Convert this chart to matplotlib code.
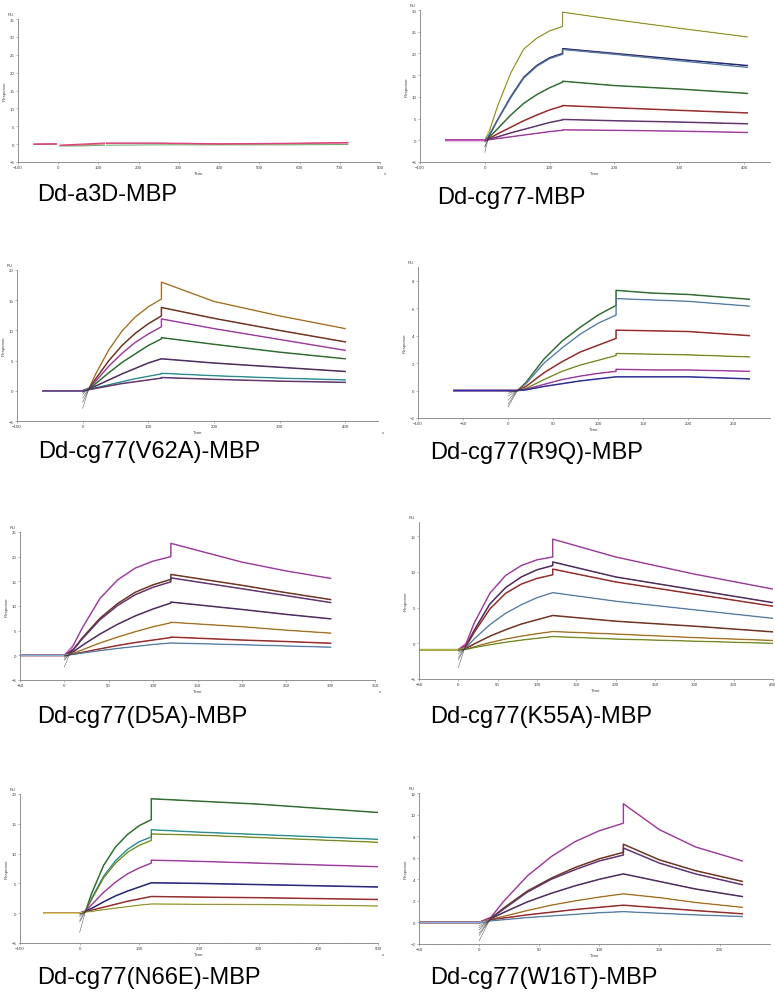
import numpy as np
import matplotlib
matplotlib.use("Agg")
import matplotlib.pyplot as plt
from matplotlib.ticker import MultipleLocator

plt.rcParams['font.family'] = ['Liberation Sans', 'DejaVu Sans']

W, H = 775, 995

# shared association time grid (s)
T_ON = [0, 10, 20, 40, 60, 80, 100, 120]

# colours used by the instrument software
C = {'yellow': '#d8d860', 'navy': '#202090', 'lblue': '#80b0e0', 'green': '#3a8a3a',
     'red': '#c03030', 'purple': '#7a3a8a', 'magenta': '#d050d0', 'cyan': '#40c0c8',
     'orange': '#e0a040', 'brown': '#8a3a20', 'ygreen': '#a8c040', 'dpurple': '#5a2a70',
     'blue': '#3030c0', 'pink': '#e04080'}

# ---- Dd-a3D-MBP (no binding) ----
a3d_time = [-60, -5, np.nan, 5, 60, 115, np.nan, 120, 250, 400, 550, 720]
a3d_magenta = [0.0, 0.1, np.nan, -0.3, 0.0, 0.3, np.nan, 0.3, 0.3, 0.1, 0.2, 0.45]
a3d_green = [-0.1, 0.0, np.nan, -0.5, -0.5, -0.3, np.nan, -0.3, -0.2, -0.2, -0.2, -0.1]
a3d_red = [0.0, 0.0, np.nan, -0.4, -0.2, 0.1, np.nan, 0.2, 0.2, 0.0, 0.1, 0.3]

# ---- Dd-cg77-MBP ----
cg77_t_off = [120, 200, 300, 405]
cg77_colors = ['yellow', 'navy', 'lblue', 'green', 'red', 'purple', 'magenta']
cg77_on = [[0, 3.5, 8, 15.5, 21, 23.5, 25.2, 26.2],
           [0, 2.0, 4.8, 10.0, 14.5, 17.2, 19.0, 20.0],
           [0, 1.9, 4.7, 9.8, 14.3, 17.0, 18.8, 19.8],
           [0, 1.2, 2.7, 5.8, 8.5, 10.5, 12.1, 13.4],
           [0, 0.7, 1.5, 3.0, 4.5, 5.8, 7.0, 7.9],
           [0, 0.4, 0.8, 1.7, 2.5, 3.3, 4.1, 4.7],
           [0, 0.2, 0.4, 0.8, 1.2, 1.6, 2.0, 2.3]]
cg77_off = [[29.5, 27.8, 25.8, 23.8],
            [21.1, 20.0, 18.6, 17.2],
            [20.9, 19.8, 18.3, 16.8],
            [13.6, 12.6, 11.8, 10.8],
            [8.0, 7.5, 6.9, 6.3],
            [4.8, 4.5, 4.2, 3.8],
            [2.4, 2.3, 2.1, 1.8]]
cg77_dip = [-2.8, -1.5, -1.5, -0.5, -0.3, -0.2, -0.1]

# ---- Dd-cg77(V62A)-MBP ----
v62a_t_off = [120, 200, 300, 400]
v62a_colors = ['orange', 'brown', 'magenta', 'green', 'dpurple', 'cyan', 'purple']
v62a_on = [[0, 0.5, 2.8, 6.8, 9.9, 12.2, 13.9, 15.2],
           [0, 0.4, 2.0, 5.0, 7.5, 9.5, 11.1, 12.4],
           [0, 0.4, 1.6, 4.1, 6.2, 8.0, 9.4, 10.6],
           [0, 0.35, 1.2, 3.0, 4.7, 6.1, 7.5, 8.6],
           [0, 0.3, 0.8, 1.8, 2.8, 3.7, 4.6, 5.3],
           [0, 0.25, 0.5, 1.0, 1.5, 2.0, 2.4, 2.8],
           [0, 0.2, 0.4, 0.8, 1.2, 1.5, 1.8, 2.1]]
v62a_off = [[18.0, 14.8, 12.4, 10.3],
            [13.8, 12.0, 10.0, 8.1],
            [11.9, 10.3, 8.5, 6.7],
            [8.8, 7.7, 6.4, 5.3],
            [5.3, 4.6, 3.9, 3.2],
            [2.9, 2.5, 2.1, 1.8],
            [2.2, 1.9, 1.6, 1.4]]
v62a_dip = [-2.9, -1.9, -1.2, -0.6, -0.3, -0.2, -0.1]

# ---- Dd-cg77(R9Q)-MBP ----
r9q_t_off = [120, 160, 200, 268]
r9q_colors = ['green', 'lblue', 'red', 'ygreen', 'magenta', 'blue']
r9q_on = [[0, -0.05, 0.6, 2.3, 3.6, 4.6, 5.5, 6.2],
          [0, 0.0, 0.5, 2.0, 3.1, 4.1, 4.9, 5.5],
          [0, 0.0, 0.3, 1.3, 2.1, 2.8, 3.3, 3.8],
          [0, 0.0, 0.15, 0.8, 1.4, 1.85, 2.2, 2.55],
          [0, 0.0, 0.1, 0.45, 0.8, 1.05, 1.25, 1.4],
          [0, 0.0, 0.05, 0.3, 0.5, 0.7, 0.85, 1.0]]
r9q_off = [[7.3, 7.1, 7.0, 6.65],
           [6.7, 6.6, 6.5, 6.15],
           [4.4, 4.35, 4.3, 4.0],
           [2.7, 2.65, 2.6, 2.45],
           [1.55, 1.5, 1.5, 1.4],
           [1.0, 1.0, 1.0, 0.85]]
r9q_dip = [-1.2, -1.0, -0.7, -0.4, -0.2, -0.1]

# ---- Dd-cg77(D5A)-MBP ----
d5a_t_off = [120, 200, 250, 300]
d5a_colors = ['magenta', 'brown', 'purple', 'dpurple', 'orange', 'red', 'lblue']
d5a_on = [[0, 2.0, 5.5, 11.5, 15.3, 17.7, 19.1, 20.0],
          [0, 1.2, 3.5, 7.5, 10.5, 12.8, 14.3, 15.4],
          [0, 1.1, 3.3, 7.2, 10.1, 12.3, 13.8, 14.9],
          [0, 0.7, 2.0, 4.3, 6.3, 8.0, 9.4, 10.6],
          [0, 0.4, 1.1, 2.5, 3.7, 4.8, 5.8, 6.6],
          [0, 0.25, 0.6, 1.3, 2.0, 2.6, 3.1, 3.6],
          [0, 0.2, 0.45, 0.95, 1.4, 1.8, 2.2, 2.5]]
d5a_off = [[22.7, 18.9, 17.1, 15.6],
           [16.4, 14.2, 12.7, 11.3],
           [15.7, 13.5, 12.1, 10.7],
           [10.8, 9.3, 8.3, 7.4],
           [6.7, 5.8, 5.1, 4.5],
           [3.7, 3.1, 2.8, 2.45],
           [2.5, 2.15, 1.9, 1.65]]
d5a_dip = [-2.3, -1.0, -0.8, -0.4, -0.2, -0.1, -0.1]

# ---- Dd-cg77(K55A)-MBP ----
k55a_t_off = [120, 200, 300, 400]
k55a_colors = ['magenta', 'dpurple', 'red', 'lblue', 'brown', 'orange', 'ygreen']
k55a_on = [[-0.9, 0.0, 2.8, 7.0, 9.5, 10.9, 11.7, 12.1],
           [-0.9, -0.3, 1.8, 5.5, 7.8, 9.3, 10.3, 10.9],
           [-0.9, -0.4, 1.5, 4.8, 7.0, 8.3, 9.1, 9.6],
           [-0.9, -0.6, 0.6, 2.6, 4.2, 5.4, 6.4, 7.1],
           [-0.9, -0.7, -0.1, 1.0, 1.9, 2.7, 3.3, 3.9],
           [-0.9, -0.8, -0.5, 0.1, 0.6, 1.0, 1.35, 1.65],
           [-0.9, -0.85, -0.6, -0.2, 0.15, 0.45, 0.7, 0.95]]
k55a_off = [[14.6, 12.1, 9.7, 7.6],
            [11.4, 9.3, 7.5, 5.7],
            [10.4, 8.6, 6.9, 5.2],
            [7.1, 5.9, 4.7, 3.5],
            [3.9, 3.1, 2.4, 1.6],
            [1.65, 1.3, 0.8, 0.4],
            [0.95, 0.6, 0.3, 0.0]]
k55a_dip = [-3.4, -2.3, -2.0, -1.5, -1.2, -1.0, -0.9]

# ---- Dd-cg77(N66E)-MBP ----
n66e_t_off = [120, 200, 300, 400, 500]
n66e_colors = ['green', 'cyan', 'ygreen', 'magenta', 'navy', 'red', 'yellow']
n66e_on = [[0, 0.4, 3.3, 8.0, 11.1, 13.2, 14.7, 15.7],
           [0, 0.4, 2.5, 6.2, 8.8, 10.7, 12.0, 12.8],
           [0, 0.4, 2.3, 5.9, 8.4, 10.2, 11.4, 12.2],
           [0, 0.35, 1.4, 3.5, 5.2, 6.6, 7.6, 8.4],
           [0, 0.3, 0.8, 1.9, 2.9, 3.7, 4.4, 5.1],
           [0, 0.25, 0.5, 1.0, 1.5, 2.0, 2.4, 2.8],
           [0, 0.2, 0.3, 0.6, 0.85, 1.1, 1.35, 1.55]]
n66e_off = [[19.2, 18.8, 18.3, 17.6, 16.9],
            [14.0, 13.6, 13.2, 12.8, 12.4],
            [13.3, 13.1, 12.7, 12.3, 11.9],
            [8.9, 8.7, 8.4, 8.1, 7.8],
            [5.1, 5.0, 4.8, 4.6, 4.4],
            [2.8, 2.7, 2.6, 2.45, 2.3],
            [1.55, 1.5, 1.45, 1.35, 1.2]]
n66e_dip = [-3.2, -1.5, -1.2, -0.6, -0.3, -0.2, -0.1]

# ---- Dd-cg77(W16T)-MBP ----
w16t_t_off = [120, 150, 180, 219]
w16t_colors = ['magenta', 'brown', 'purple', 'dpurple', 'orange', 'red', 'lblue']
w16t_on = [[0, 0.5, 1.9, 4.3, 6.1, 7.5, 8.5, 9.2],
           [0, 0.4, 1.3, 2.9, 4.1, 5.1, 5.9, 6.5],
           [0, 0.4, 1.2, 2.8, 4.0, 4.9, 5.7, 6.25],
           [0, 0.35, 0.9, 1.9, 2.7, 3.4, 4.0, 4.5],
           [0, 0.3, 0.55, 1.1, 1.6, 2.0, 2.35, 2.65],
           [0, 0.25, 0.4, 0.7, 0.95, 1.2, 1.4, 1.6],
           [0, 0.15, 0.25, 0.45, 0.6, 0.75, 0.9, 1.0]]
w16t_off = [[11.0, 8.6, 7.0, 5.7],
            [7.25, 5.8, 4.8, 3.8],
            [6.9, 5.5, 4.5, 3.5],
            [4.5, 3.8, 3.1, 2.4],
            [2.65, 2.3, 1.85, 1.4],
            [1.6, 1.35, 1.1, 0.8],
            [1.0, 0.85, 0.7, 0.55]]
w16t_dip = [-1.7, -1.2, -1.0, -0.7, -0.5, -0.3, -0.1]

fig = plt.figure(figsize=(W / 100, H / 100), dpi=100)


def make_axes(l, r, t, b, xlim, ylim, xstep, ystep, xminor, show_s=True):
    ax = fig.add_axes([l / W, 1 - b / H, (r - l) / W, (b - t) / H])
    ax.set_xlim(*xlim)
    ax.set_ylim(*ylim)
    ax.xaxis.set_major_locator(MultipleLocator(xstep))
    ax.xaxis.set_minor_locator(MultipleLocator(xminor))
    ax.yaxis.set_major_locator(MultipleLocator(ystep))
    for s in ['top', 'right']:
        ax.spines[s].set_visible(False)
    for s in ['left', 'bottom']:
        ax.spines[s].set_color('#808080')
        ax.spines[s].set_linewidth(0.6)
    ax.tick_params(which='major', length=1.5, width=0.4, labelsize=3.2, pad=1, colors='#808080',
                   labelcolor='#404040')
    ax.tick_params(which='minor', axis='x', length=0.8, width=0.3, colors='#a0a0a0')
    ax.set_xlabel('Time', fontsize=3.2, labelpad=1, color='#404040')
    ax.set_ylabel('Response', fontsize=3.2, labelpad=2, color='#404040')
    ax.text(-0.02, 1.02, 'RU', transform=ax.transAxes, fontsize=3, ha='center', va='bottom',
            color='#404040')
    if show_s:
        ax.text(1.01, -0.06, 's', transform=ax.transAxes, fontsize=3, ha='left', va='top',
                color='#404040')
    return ax


def draw_sensorgram(ax, t_start, t_off, colors, on, off, dips):
    # measured traces (coloured) first, fitted curves (thin dark) on top
    for col, a, d in zip(colors, on, off):
        base = a[0]
        tx = [t_start, 0] + T_ON[1:] + t_off
        ty = [base, base] + a[1:] + d
        ax.plot(tx, ty, color=C[col], lw=1.1, solid_joinstyle='round')
    for a, d, dip in zip(on, off, dips):
        fx = T_ON + t_off
        fy = [dip] + a[1:] + d
        ax.plot(fx, fy, color='#3a3a3a', lw=0.35, alpha=0.9)


def title(x, y, txt):
    fig.text(x / W, 1 - y / H, txt, fontsize=17, ha='left', va='center', color='black')


# panel 1
ax1 = make_axes(18, 380, 20, 163, (-100, 800), (-5, 35), 100, 5, 20)
ax1.plot(a3d_time, a3d_green, color=C['green'], lw=0.8, alpha=0.7)
ax1.plot(a3d_time, a3d_red, color=C['red'], lw=0.8, alpha=0.7)
ax1.plot(a3d_time, a3d_magenta, color=C['pink'], lw=0.9)
title(37, 195, 'Dd-a3D-MBP')

# panel 2
ax2 = make_axes(420, 770, 11, 163, (-100, 440), (-5, 30), 100, 5, 20, show_s=False)
draw_sensorgram(ax2, -60, cg77_t_off, cg77_colors, cg77_on, cg77_off, cg77_dip)
title(437, 198, 'Dd-cg77-MBP')

# panel 3
ax3 = make_axes(17, 378, 271, 422, (-100, 450), (-5, 20), 100, 5, 20)
draw_sensorgram(ax3, -60, v62a_t_off, v62a_colors, v62a_on, v62a_off, v62a_dip)
title(38, 452, 'Dd-cg77(V62A)-MBP')

# panel 4
ax4 = make_axes(418, 770, 268, 419, (-100, 291), (-2, 9), 50, 2, 10, show_s=False)
draw_sensorgram(ax4, -60, r9q_t_off, r9q_colors, r9q_on, r9q_off, r9q_dip)
title(430, 453, 'Dd-cg77(R9Q)-MBP')

# panel 5
ax5 = make_axes(20, 375, 533, 681, (-50, 350), (-5, 25), 50, 5, 10)
draw_sensorgram(ax5, -50, d5a_t_off, d5a_colors, d5a_on, d5a_off, d5a_dip)
title(37, 717, 'Dd-cg77(D5A)-MBP')

# panel 6
ax6 = make_axes(419, 773, 523, 680, (-50, 400), (-5, 17), 50, 5, 10, show_s=False)
draw_sensorgram(ax6, -50, k55a_t_off, k55a_colors, k55a_on, k55a_off, k55a_dip)
title(430, 717, 'Dd-cg77(K55A)-MBP')

# panel 7
ax7 = make_axes(20, 378, 795, 944, (-100, 500), (-5, 20), 100, 5, 20)
draw_sensorgram(ax7, -60, n66e_t_off, n66e_colors, n66e_on, n66e_off, n66e_dip)
title(37, 978, 'Dd-cg77(N66E)-MBP')

# panel 8
ax8 = make_axes(419, 770, 794, 945, (-50, 242), (-2, 12), 50, 2, 10, show_s=False)
draw_sensorgram(ax8, -50, w16t_t_off, w16t_colors, w16t_on, w16t_off, w16t_dip)
title(430, 978, 'Dd-cg77(W16T)-MBP')

fig.savefig('out.png', dpi=100)
